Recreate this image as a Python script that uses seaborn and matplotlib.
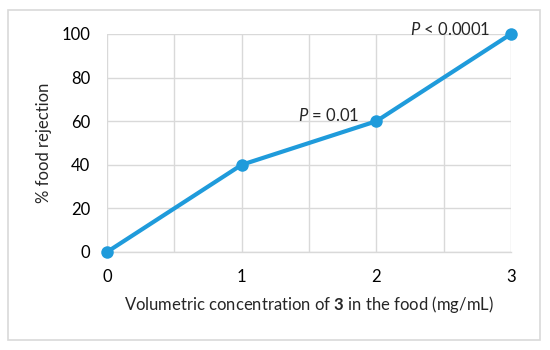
import matplotlib
matplotlib.use("Agg")
import matplotlib.pyplot as plt
import seaborn as sns
import pandas as pd
from matplotlib.patches import Rectangle

concentration = [0, 1, 2, 3]
rejection = [0, 40, 60, 100]
y_ticks = [0, 20, 40, 60, 80, 100]
x_ticks = [0, 1, 2, 3]
annotations = [("P", " = 0.01", 2, 60), ("P", " < 0.0001", 3, 100)]

sns.set_theme(style="white")
plt.rcParams['font.family'] = ['Lato', 'DejaVu Sans']
plt.rcParams['mathtext.fontset'] = 'custom'
plt.rcParams['mathtext.rm'] = 'Lato'
plt.rcParams['mathtext.it'] = 'Lato:italic'
plt.rcParams['mathtext.bf'] = 'Lato:bold'

df = pd.DataFrame({"conc": concentration, "rej": rejection})

fig = plt.figure(figsize=(5.5, 3.5), dpi=100)
ax = fig.add_axes([107/550, 1-252/350, (511-107)/550, (252-34)/350])

color = "#1f9bdb"
sns.lineplot(data=df, x="conc", y="rej", ax=ax, color=color, linewidth=3,
             marker="o", markersize=9, markeredgewidth=0, markerfacecolor=color,
             clip_on=False, zorder=5)

fs = 12
ax.set_xlim(0, 3)
ax.set_ylim(0, 100)
ax.set_xticks(x_ticks)
ax.set_xticks([0.5, 1.5, 2.5], minor=True)
ax.set_yticks(y_ticks)
ax.grid(True, which="both", color="#d9d9d9", linewidth=1)
for s in ["top", "right", "left"]:
    ax.spines[s].set_visible(False)
ax.spines["bottom"].set_color("#d9d9d9")
ax.spines["bottom"].set_linewidth(1)
ax.tick_params(axis="both", which="both", length=0, labelsize=fs, colors="black")
ax.tick_params(axis="x", pad=12)
ax.tick_params(axis="y", pad=12)

ax.set_xlabel("Volumetric concentration of $\\mathbf{3}$ in the food (mg/mL)", fontsize=fs, labelpad=7)
ax.set_ylabel("% food rejection", fontsize=fs, labelpad=7)

offsets = [(1.875, 62.5), (2.85, 102.2)]
for (p, rest, xv, yv), (tx, ty) in zip(annotations, offsets):
    ax.text(tx, ty, f"$\\mathit{{{p}}}$" + rest, ha="right", va="center", fontsize=fs, zorder=6)

fig.patches.append(Rectangle((7.5/550, 1-339.5/350), (540-7.5)/550, (339.5-9.5)/350,
                             transform=fig.transFigure, fill=False, edgecolor="#d9d9d9",
                             linewidth=1.2))

fig.savefig("out.png", dpi=100)
